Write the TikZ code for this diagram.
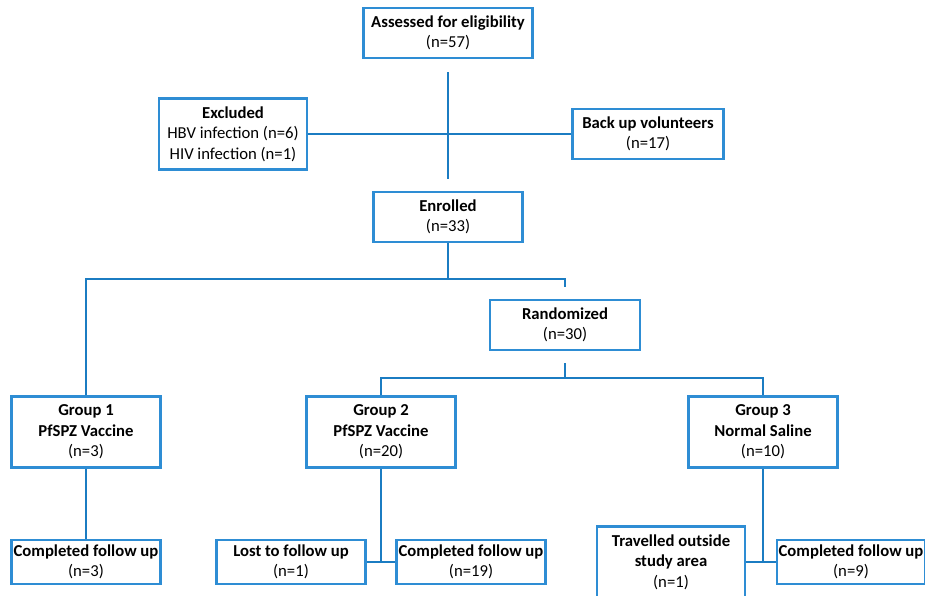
\documentclass[tikz,border=0pt]{standalone}
\usepackage{fontspec}
\setmainfont{Carlito}
\usepackage{xcolor}
\definecolor{boxblue}{RGB}{46,141,212}
\definecolor{lineblue}{RGB}{27,124,194}

\begin{document}
\begin{tikzpicture}[x=0.02cm, y=-0.02cm,
    box/.style={draw=boxblue, line width=1.4pt, fill=white, align=center,
        inner sep=0pt, minimum width=2.98cm, minimum height=1cm,
        font=\fontsize{9.5}{11.6}\selectfont},
    tall/.style={minimum height=1.42cm},
    link/.style={draw=lineblue, line width=1.1pt}]
    \useasboundingbox (0,0) rectangle (925,595);

    \node[box, minimum width=3.38cm] (assess) at (448,33) {\textbf{Assessed for eligibility}\\(n=57)};
    \node[box, tall, minimum width=2.96cm] (excl) at (233,134) {\textbf{Excluded}\\HBV infection (n=6)\\HIV infection (n=1)};
    \node[box, minimum width=3.02cm] (backup) at (648,134) {\textbf{Back up volunteers}\\(n=17)};
    \node[box] (enrol) at (448,217) {\textbf{Enrolled}\\(n=33)};
    \node[box, minimum width=3cm] (rand) at (565,325) {\textbf{Randomized}\\(n=30)};

    \node[box, tall] (g1) at (86,432) {\textbf{Group 1}\\\textbf{PfSPZ Vaccine}\\(n=3)};
    \node[box, tall] (g2) at (381,432) {\textbf{Group 2}\\\textbf{PfSPZ Vaccine}\\(n=20)};
    \node[box, tall] (g3) at (763,432) {\textbf{Group 3}\\\textbf{Normal Saline}\\(n=10)};

    \node[box, minimum height=0.88cm] (c1) at (86,562) {\textbf{Completed follow up}\\(n=3)};
    \node[box, minimum height=0.88cm] (lost) at (291,562) {\textbf{Lost to follow up}\\(n=1)};
    \node[box, minimum height=0.88cm] (c2) at (471,562) {\textbf{Completed follow up}\\(n=19)};
    \node[box, tall, minimum width=2.96cm] (trav) at (671,562) {\textbf{Travelled outside}\\\textbf{study area}\\(n=1)};
    \node[box, minimum height=0.88cm, minimum width=2.96cm] (c3) at (851,562) {\textbf{Completed follow up}\\(n=9)};

    \coordinate (split1) at (448,279);
    \coordinate (split2) at (565,378);

    \draw[link, shorten <=0.26cm, shorten >=0.24cm] (assess) -- (enrol);
    \draw[link] (excl.east) -- (backup.west);

    \draw[link] (enrol) -- (split1);
    \draw[link, shorten >=0.24cm] (g1.north) -- (g1.north |- split1) -| (rand.north);

    \draw[link, shorten <=0.24cm] (rand) -- (split2);
    \draw[link] (g2.north) |- (split2) -| (g3.north);

    \draw[link] (g1) -- (c1);
    \draw[link] (g2) -- (g2 |- lost.east);
    \draw[link] (lost.east) -- (c2.west);
    \draw[link] (g3) -- (g3 |- trav.east);
    \draw[link] (trav.east) -- (c3.west);
\end{tikzpicture}
\end{document}
